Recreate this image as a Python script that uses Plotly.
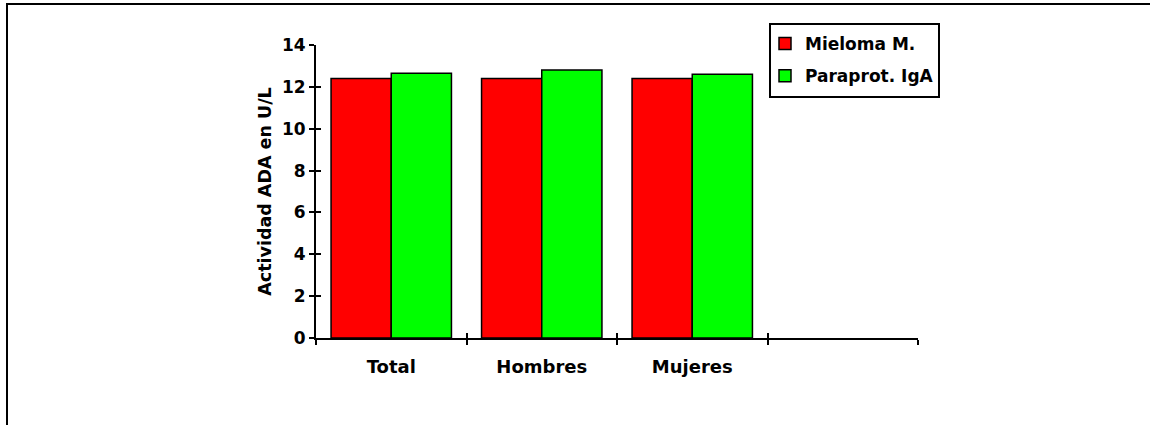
import plotly.graph_objects as go

# Categories (the last slot is left empty on purpose)
categories = ["Total", "Hombres", "Mujeres", " "]
mieloma = [12.4, 12.4, 12.4, None]
paraprot_iga = [12.65, 12.8, 12.6, None]
y_ticks = [0, 2, 4, 6, 8, 10, 12, 14]

FONT = "DejaVu Sans, Arial, sans-serif"
W, H = 1150, 425
ML, MR, MT, MB = 316, 232, 45, 87
PW, PH = W - ML - MR, H - MT - MB


def px_to_paper_x(px):
    return (px - ML) / PW


def px_to_paper_y(py):
    return (H - MB - py) / PH


fig = go.Figure()
fig.add_trace(go.Bar(
    name="<b>Mieloma M.</b>", x=categories, y=mieloma, legendgroup="a",
    marker=dict(color="#ff0000", line=dict(color="black", width=1.5)),
))
fig.add_trace(go.Bar(
    name="<b>Paraprot. IgA</b>", x=categories, y=paraprot_iga, legendgroup="b",
    marker=dict(color="#00ff00", line=dict(color="black", width=1.5)),
))

tick_font = dict(family=FONT, size=17, color="black")
cat_font = dict(family=FONT, size=18, color="black")
title_font = dict(family=FONT, size=17.5, color="black")

fig.update_layout(
    width=W, height=H,
    margin=dict(l=ML, r=MR, t=MT, b=MB, pad=0),
    paper_bgcolor="white", plot_bgcolor="white",
    barmode="group", bargap=0.2, bargroupgap=0,
    showlegend=True,
    legend=dict(
        x=px_to_paper_x(765), y=px_to_paper_y(26),
        xanchor="left", yanchor="top",
        borderwidth=0, bgcolor="rgba(0,0,0,0)",
        tracegroupgap=7,
        font=dict(family=FONT, size=17, color="black"),
        itemclick=False, itemdoubleclick=False,
    ),
    xaxis=dict(
        type="category", categoryorder="array", categoryarray=categories,
        range=[-0.5, 3.5], tickson="boundaries",
        ticks="outside", ticklen=5, tickwidth=2, tickcolor="black",
        showline=True, linecolor="black", linewidth=2,
        showgrid=False, zeroline=False,
        tickfont=cat_font, ticklabelstandoff=11,
        tickprefix="<b>", ticksuffix="</b>",
    ),
    xaxis2=dict(
        overlaying="x", side="bottom", range=[-0.5, 3.5],
        tickmode="array", tickvals=[-0.5, 0.5, 1.5, 2.5, 3.5],
        ticks="inside", ticklen=5, tickwidth=2, tickcolor="black",
        showticklabels=False, showgrid=False, zeroline=False, showline=False,
    ),
    yaxis=dict(
        range=[0, 14], tickmode="array", tickvals=y_ticks,
        ticktext=[f"<b>{v}</b>" for v in y_ticks],
        ticks="outside", ticklen=5, tickwidth=2, tickcolor="black",
        showline=True, linecolor="black", linewidth=2,
        showgrid=False, zeroline=False,
        tickfont=tick_font,
        title=dict(text="<b>Actividad ADA en U/L</b>", font=title_font, standoff=6),
    ),
    yaxis2=dict(
        overlaying="y", range=[0, 14], tickmode="array", tickvals=y_ticks,
        ticks="inside", ticklen=5, tickwidth=2, tickcolor="black",
        showticklabels=False, showgrid=False, zeroline=False, showline=False,
    ),
    shapes=[
        # outer frame (left and top edges)
        dict(type="line", xref="paper", yref="paper",
             x0=px_to_paper_x(7), x1=px_to_paper_x(7),
             y0=px_to_paper_y(4), y1=px_to_paper_y(H + 2),
             line=dict(color="black", width=2)),
        dict(type="line", xref="paper", yref="paper",
             x0=px_to_paper_x(6), x1=px_to_paper_x(W + 2),
             y0=px_to_paper_y(4), y1=px_to_paper_y(4),
             line=dict(color="black", width=2)),
        # legend box
        dict(type="rect", xref="paper", yref="paper",
             x0=px_to_paper_x(770), x1=px_to_paper_x(939),
             y0=px_to_paper_y(24), y1=px_to_paper_y(97),
             line=dict(color="black", width=2), fillcolor="rgba(0,0,0,0)",
             layer="above"),
    ],
)

# Invisible helper so the overlay axes used for crossing tick marks are drawn
fig.add_trace(go.Scatter(x=[None], y=[None], xaxis="x2", yaxis="y2",
                         showlegend=False, hoverinfo="skip"))

fig.write_html("out.html")
